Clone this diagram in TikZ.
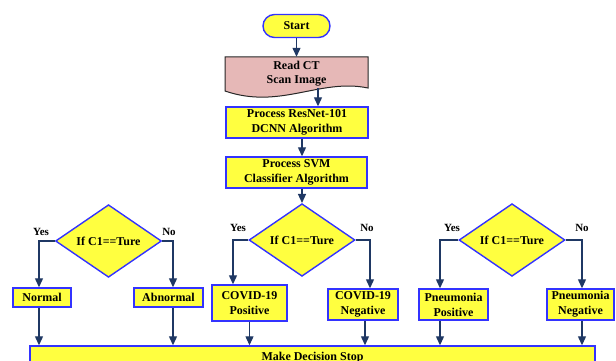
\documentclass[tikz,border=0pt]{standalone}
\usepackage{fontspec}
\setmainfont{Liberation Serif}
\usepackage{xcolor}
\usetikzlibrary{positioning, arrows.meta, shapes.geometric}

\definecolor{boxfill}{RGB}{255,255,64}
\definecolor{boxline}{RGB}{51,51,255}
\definecolor{flowline}{RGB}{31,56,100}
\definecolor{docfill}{RGB}{230,184,183}

\begin{document}
\begin{tikzpicture}[x=1pt, y=-1pt,
    every node/.style={font=\fontsize{12}{15}\selectfont\bfseries, align=center},
    procbox/.style={rectangle, draw=boxline, fill=boxfill, line width=1.4pt, inner sep=1pt},
    decide/.style={diamond, draw=boxline, fill=boxfill, line width=1.4pt, inner sep=0pt,
      minimum width=106pt, minimum height=64pt},
    answer/.style={font=\fontsize{11}{13}\selectfont\bfseries},
    flow/.style={draw=flowline, line width=1.2pt, -{Triangle[length=9pt,width=8pt]}}]
  \clip (0,0) rectangle (616,361);

  % scan document
  \draw[draw=black!85, fill=docfill, line width=1pt]
    (225,57) -- (368,57) -- (368,88) .. controls (320,78) and (280,110) .. (225,91) -- cycle;
  \coordinate (readout) at (318,88.5);

  \draw
    (296.5,26) node[rectangle, rounded corners=11.5pt, draw=boxline, fill=boxfill, line width=1.4pt,
      minimum width=67pt, minimum height=23pt] (start){Start}
    (296.5,74) node[minimum width=143pt, minimum height=34pt, inner sep=0pt] (readct){Read CT\\[-1pt]Scan Image}
    (297,122.5) node[procbox, minimum width=142pt, minimum height=31pt] (resnet){Process ResNet-101\\DCNN Algorithm}
    (296.5,172.5) node[procbox, minimum width=141pt, minimum height=31pt] (svm){Process SVM\\Classifier Algorithm}
    (108.5,241) node[decide] (dl){If C1==Ture}
    (302,240) node[decide] (dm){If C1==Ture}
    (512,240) node[decide] (dr){If C1==Ture}
    (42,297.5) node[procbox, minimum width=58pt, minimum height=19pt] (normal){Normal}
    (168.5,297.5) node[procbox, minimum width=69pt, minimum height=19pt] (abn){Abnormal}
    (249.5,303) node[procbox, minimum width=75pt, minimum height=36pt] (covp){COVID-19\\Positive}
    (363,304.5) node[procbox, minimum width=70pt, minimum height=31pt] (covn){COVID-19\\Negative}
    (453.5,304.5) node[procbox, minimum width=69pt, minimum height=31pt] (pnp){Pneumonia\\Positive}
    (580.5,304.5) node[procbox, minimum width=67pt, minimum height=31pt] (pnn){Pneumonia\\Negative}
    (312.5,358) node[procbox, minimum width=565pt, minimum height=24pt] (stop){Make Decision Stop};

  \draw
    (41,232) node[answer] (yl){Yes}
    (169,232) node[answer] (nl){No}
    (238,228) node[answer] (ym){Yes}
    (367,228) node[answer] (nm){No}
    (452,228) node[answer] (yr){Yes}
    (582,228) node[answer] (nr){No};

  \begin{scope}[flow]
    \draw (start) -- (readct.north);
    \draw (readout) -- (readout |- resnet.north);
    \draw (resnet.south -| dm.north) -- (svm.north -| dm.north);
    \draw (svm.south -| dm.north) -- (dm.north);
    \draw (dl.west) -| ([xshift=-3pt]normal.north);
    \draw (dl.east) -| ([xshift=4.5pt]abn.north);
    \draw (dm.west) -| ([xshift=-16.5pt]covp.north);
    \draw (dm.east) -| ([xshift=7pt]covn.north);
    \draw (dr.west) -| ([xshift=-13.5pt]pnp.north);
    \draw (dr.east) -| ([xshift=1.5pt]pnn.north);
    \draw ([xshift=-3pt]normal.south) -- ([xshift=-3pt]normal.south |- stop.north);
    \draw ([xshift=4.5pt]abn.south) -- ([xshift=4.5pt]abn.south |- stop.north);
    \draw (covp.south) -- (covp.south |- stop.north);
    \draw ([xshift=2pt]covn.south) -- ([xshift=2pt]covn.south |- stop.north);
    \draw ([xshift=-13.5pt]pnp.south) -- ([xshift=-13.5pt]pnp.south |- stop.north);
    \draw ([xshift=1.5pt]pnn.south) -- ([xshift=1.5pt]pnn.south |- stop.north);
  \end{scope}
\end{tikzpicture}
\end{document}
